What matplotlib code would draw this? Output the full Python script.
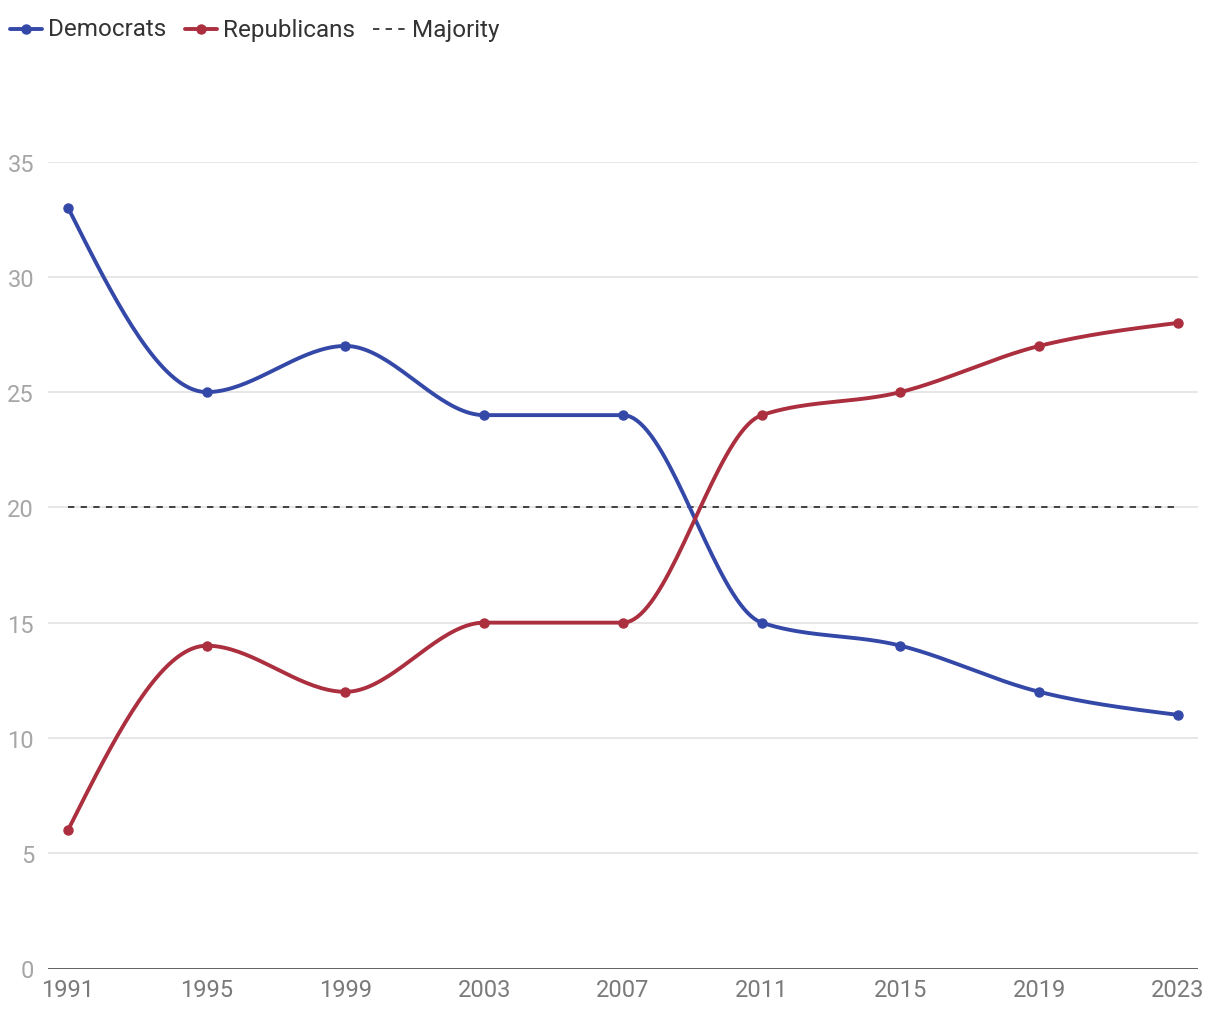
import numpy as np
import matplotlib
matplotlib.use("Agg")
import matplotlib.pyplot as plt

plt.rcParams['font.family'] = ['Roboto', 'DejaVu Sans']

# --- data ---
years = [1991, 1995, 1999, 2003, 2007, 2011, 2015, 2019, 2023]
democrats = [33, 25, 27, 24, 24, 15, 14, 12, 11]
republicans = [6, 14, 12, 15, 15, 24, 25, 27, 28]
majority = [20, 20, 20, 20, 20, 20, 20, 20, 20]
yticks = [0, 5, 10, 15, 20, 25, 30, 35]
series_names = ['Democrats', 'Republicans', 'Majority']

BLUE = '#3448a8'
RED = '#ab2f3e'
DARK = '#333333'


def monotone_curve(x, y, n=40):
    """monotone cubic (like d3 curveMonotoneX), only for drawing the line"""
    x = np.asarray(x, float)
    y = np.asarray(y, float)
    h = np.diff(x)
    s = np.diff(y) / h
    m = np.zeros_like(y)
    for i in range(1, len(x) - 1):
        if s[i - 1] * s[i] <= 0:
            m[i] = 0
        else:
            p = (s[i - 1] * h[i] + s[i] * h[i - 1]) / (h[i - 1] + h[i])
            m[i] = (np.sign(s[i - 1]) + np.sign(s[i])) * min(abs(s[i - 1]), abs(s[i]), 0.5 * abs(p))
    m[0] = (3 * s[0] - m[1]) / 2
    m[-1] = (3 * s[-1] - m[-2]) / 2
    xs, ys = [], []
    for i in range(len(x) - 1):
        t = np.linspace(0, 1, n)
        h00 = 2 * t**3 - 3 * t**2 + 1
        h10 = t**3 - 2 * t**2 + t
        h01 = -2 * t**3 + 3 * t**2
        h11 = t**3 - t**2
        xs.extend(x[i] + t * h[i])
        ys.extend(h00 * y[i] + h10 * h[i] * m[i] + h01 * y[i + 1] + h11 * h[i] * m[i + 1])
    return np.array(xs), np.array(ys)


fig = plt.figure(figsize=(12.2, 10.2), dpi=100)
W, H = 1220, 1020
left, right, top, bottom = 48, 1198, 162.5, 969.5
ax = fig.add_axes([left / W, 1 - bottom / H, (right - left) / W, (bottom - top) / H])

px_per_year = (1178 - 68) / (2023 - 1991)
ax.set_xlim(1991 - 20 / px_per_year, 2023 + 20 / px_per_year)
ax.set_ylim(0, 35)

for yt in yticks[1:]:
    ax.axhline(yt, color='#e3e3e3', lw=1.2, zorder=0)
ax.axhline(0, color=DARK, lw=1.8, zorder=1)

ax.plot(years, majority, color=DARK, lw=1.3, ls=(0, (3.5, 3.5)), zorder=2)

for vals, col in [(democrats, BLUE), (republicans, RED)]:
    cx, cy = monotone_curve(years, vals)
    ax.plot(cx, cy, color=col, lw=2.8, zorder=3, solid_capstyle='round', clip_on=False)
    ax.plot(years, vals, 'o', color=col, ms=6.5, zorder=4, clip_on=False)

for sp in ax.spines.values():
    sp.set_visible(False)
ax.set_yticks(yticks)
ax.set_yticklabels([str(v) for v in yticks])
ax.set_xticks(years)
ax.set_xticklabels([str(v) for v in years])
ax.tick_params(axis='y', length=0, pad=10, labelsize=17, labelcolor='#a6a6a6')
ax.tick_params(axis='x', length=0, pad=7, labelsize=17, labelcolor='#7a7a7a')

# legend drawn in pixel coordinates on an overlay
lax = fig.add_axes([0, 0, 1, 1])
lax.set_xlim(0, W)
lax.set_ylim(H, 0)
lax.axis('off')
ly = 30
legend_items = [
    (10, 48, BLUE, '-', True),
    (185, 223, RED, '-', True),
    (373, 412, DARK, (0, (3.5, 3.5)), False),
]
for name, (hx, tx, col, ls, marker) in zip(series_names, legend_items):
    if marker:
        lax.plot([hx, hx + 32], [ly, ly], color=col, lw=2.8, solid_capstyle='round')
        lax.plot([hx + 16], [ly], 'o', color=col, ms=6.5)
    else:
        lax.plot([hx, hx + 32], [ly, ly], color=col, lw=1.3, ls=ls)
    lax.text(tx, ly, name, fontsize=17.5, color=DARK, va='center', ha='left')

fig.savefig('out.png', dpi=100)
